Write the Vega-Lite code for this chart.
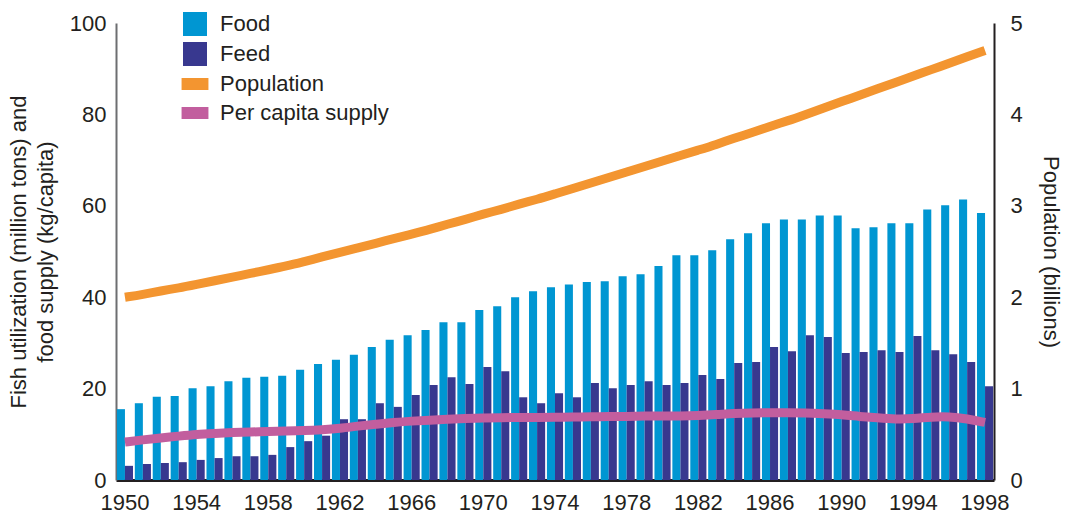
{
  "$schema": "https://vega.github.io/schema/vega-lite/v6.json",
  "width": 878,
  "height": 457,
  "autosize": {"type": "none"},
  "padding": {"left": 116, "top": 23, "right": 72, "bottom": 42},
  "background": "white",
  "config": {
    "view": {"stroke": null},
    "font": "Liberation Sans",
    "axis": {"grid": false, "ticks": false, "labelFont": "Liberation Sans", "titleFont": "Liberation Sans", "labelFontSize": 22, "titleFontSize": 22, "labelColor": "#231F20", "titleColor": "#231F20", "titleFontWeight": "normal"},
    "legend": {"labelFont": "Liberation Sans", "labelFontSize": 22, "labelColor": "#231F20", "padding": 0, "labelLimit": 400}
  },
  "data": {
    "values": [
      {"year": 1950, "Food": 15.5, "Feed": 3.1, "Population": 2.00, "PerCapita": 8.3},
      {"year": 1951, "Food": 16.8, "Feed": 3.5, "Population": 2.03, "PerCapita": 8.8},
      {"year": 1952, "Food": 18.2, "Feed": 3.7, "Population": 2.07, "PerCapita": 9.2},
      {"year": 1953, "Food": 18.4, "Feed": 3.9, "Population": 2.10, "PerCapita": 9.6},
      {"year": 1954, "Food": 20.1, "Feed": 4.4, "Population": 2.14, "PerCapita": 10.0},
      {"year": 1955, "Food": 20.5, "Feed": 4.8, "Population": 2.18, "PerCapita": 10.2},
      {"year": 1956, "Food": 21.6, "Feed": 5.2, "Population": 2.22, "PerCapita": 10.4},
      {"year": 1957, "Food": 22.4, "Feed": 5.2, "Population": 2.26, "PerCapita": 10.5},
      {"year": 1958, "Food": 22.6, "Feed": 5.5, "Population": 2.30, "PerCapita": 10.6},
      {"year": 1959, "Food": 22.8, "Feed": 7.2, "Population": 2.34, "PerCapita": 10.7},
      {"year": 1960, "Food": 24.1, "Feed": 8.5, "Population": 2.39, "PerCapita": 10.8},
      {"year": 1961, "Food": 25.4, "Feed": 9.7, "Population": 2.44, "PerCapita": 11.0},
      {"year": 1962, "Food": 26.3, "Feed": 13.3, "Population": 2.49, "PerCapita": 11.3},
      {"year": 1963, "Food": 27.4, "Feed": 13.3, "Population": 2.54, "PerCapita": 11.8},
      {"year": 1964, "Food": 29.1, "Feed": 16.8, "Population": 2.59, "PerCapita": 12.2},
      {"year": 1965, "Food": 30.7, "Feed": 16.0, "Population": 2.64, "PerCapita": 12.6},
      {"year": 1966, "Food": 31.7, "Feed": 18.6, "Population": 2.69, "PerCapita": 12.9},
      {"year": 1967, "Food": 32.8, "Feed": 20.8, "Population": 2.74, "PerCapita": 13.1},
      {"year": 1968, "Food": 34.5, "Feed": 22.5, "Population": 2.80, "PerCapita": 13.3},
      {"year": 1969, "Food": 34.5, "Feed": 21.0, "Population": 2.85, "PerCapita": 13.5},
      {"year": 1970, "Food": 37.2, "Feed": 24.7, "Population": 2.91, "PerCapita": 13.6},
      {"year": 1971, "Food": 38.0, "Feed": 23.8, "Population": 2.96, "PerCapita": 13.6},
      {"year": 1972, "Food": 40.0, "Feed": 18.1, "Population": 3.02, "PerCapita": 13.7},
      {"year": 1973, "Food": 41.3, "Feed": 16.8, "Population": 3.07, "PerCapita": 13.7},
      {"year": 1974, "Food": 42.2, "Feed": 19.0, "Population": 3.13, "PerCapita": 13.7},
      {"year": 1975, "Food": 42.8, "Feed": 18.1, "Population": 3.19, "PerCapita": 13.8},
      {"year": 1976, "Food": 43.3, "Feed": 21.2, "Population": 3.25, "PerCapita": 13.8},
      {"year": 1977, "Food": 43.5, "Feed": 20.1, "Population": 3.31, "PerCapita": 13.9},
      {"year": 1978, "Food": 44.6, "Feed": 20.8, "Population": 3.37, "PerCapita": 13.9},
      {"year": 1979, "Food": 45.0, "Feed": 21.6, "Population": 3.43, "PerCapita": 14.0},
      {"year": 1980, "Food": 46.8, "Feed": 20.8, "Population": 3.49, "PerCapita": 14.0},
      {"year": 1981, "Food": 49.2, "Feed": 21.2, "Population": 3.55, "PerCapita": 14.0},
      {"year": 1982, "Food": 49.2, "Feed": 23.0, "Population": 3.61, "PerCapita": 14.1},
      {"year": 1983, "Food": 50.3, "Feed": 22.1, "Population": 3.67, "PerCapita": 14.3},
      {"year": 1984, "Food": 52.7, "Feed": 25.6, "Population": 3.74, "PerCapita": 14.6},
      {"year": 1985, "Food": 54.0, "Feed": 25.8, "Population": 3.80, "PerCapita": 14.7},
      {"year": 1986, "Food": 56.2, "Feed": 29.1, "Population": 3.87, "PerCapita": 14.7},
      {"year": 1987, "Food": 57.0, "Feed": 28.2, "Population": 3.93, "PerCapita": 14.7},
      {"year": 1988, "Food": 57.0, "Feed": 31.7, "Population": 4.00, "PerCapita": 14.7},
      {"year": 1989, "Food": 57.9, "Feed": 31.3, "Population": 4.07, "PerCapita": 14.5},
      {"year": 1990, "Food": 57.9, "Feed": 27.8, "Population": 4.14, "PerCapita": 14.3},
      {"year": 1991, "Food": 55.1, "Feed": 28.0, "Population": 4.21, "PerCapita": 13.9},
      {"year": 1992, "Food": 55.3, "Feed": 28.4, "Population": 4.28, "PerCapita": 13.6},
      {"year": 1993, "Food": 56.2, "Feed": 28.0, "Population": 4.35, "PerCapita": 13.3},
      {"year": 1994, "Food": 56.2, "Feed": 31.5, "Population": 4.42, "PerCapita": 13.4},
      {"year": 1995, "Food": 59.2, "Feed": 28.4, "Population": 4.49, "PerCapita": 13.8},
      {"year": 1996, "Food": 60.1, "Feed": 27.5, "Population": 4.56, "PerCapita": 13.9},
      {"year": 1997, "Food": 61.4, "Feed": 25.8, "Population": 4.63, "PerCapita": 13.4},
      {"year": 1998, "Food": 58.4, "Feed": 20.5, "Population": 4.70, "PerCapita": 12.6}
    ]
  },
  "encoding": {
    "x": {
      "field": "year", "type": "ordinal",
      "scale": {"paddingInner": 0.1, "paddingOuter": 0.05},
      "axis": {
        "title": null, "labelAngle": 0, "labelPadding": 12,
        "values": [1950, 1954, 1958, 1962, 1966, 1970, 1974, 1978, 1982, 1986, 1990, 1994, 1998],
        "domainColor": "#231F20", "domainWidth": 3
      }
    }
  },
  "layer": [
    {
      "layer": [
        {
          "transform": [{"fold": ["Food", "Feed"], "as": ["key", "value"]}],
          "mark": {"type": "bar", "strokeWidth": 0},
          "encoding": {
            "xOffset": {"field": "key", "type": "nominal", "sort": ["Food", "Feed"], "scale": {"paddingInner": 0}},
            "y": {
              "field": "value", "type": "quantitative",
              "scale": {"domain": [0, 100], "nice": false},
              "axis": {"title": ["Fish utilization (million tons) and", "food supply (kg/capita)"], "titleLineHeight": 27, "titlePadding": 12, "values": [0, 20, 40, 60, 80, 100], "labelPadding": 10, "domainColor": "#6D6E71", "domainWidth": 2}
            },
            "color": {
              "field": "key", "type": "nominal",
              "scale": {"domain": ["Food", "Feed", "Population", "Per capita supply"], "range": ["#0096D2", "#38388F", "#F39530", "#C25E9E"]},
              "legend": {
                "title": null, "orient": "none", "legendX": 67, "legendY": -11,
                "symbolType": "square", "symbolSize": 576, "symbolStrokeWidth": 0, "labelOffset": 13, "rowPadding": 6,
                "encode": {
                  "symbols": {
                    "update": {
                      "shape": {"signal": "datum.value === 'Food' || datum.value === 'Feed' ? 'square' : 'M-1.12,-0.5H1.12V0.5H-1.12Z'"},
                      "fill": {"scale": "color", "field": "value"},
                      "strokeWidth": {"value": 0},
                      "opacity": {"value": 1}
                    }
                  }
                }
              }
            }
          }
        },
        {
          "mark": {"type": "line", "strokeWidth": 9, "strokeCap": "butt", "interpolate": "basis"},
          "encoding": {
            "y": {
              "field": "PerCapita", "type": "quantitative",
              "scale": {"domain": [0, 100], "nice": false},
              "axis": {"title": ["Fish utilization (million tons) and", "food supply (kg/capita)"], "titleLineHeight": 27, "titlePadding": 12, "values": [0, 20, 40, 60, 80, 100], "labelPadding": 10, "domainColor": "#6D6E71", "domainWidth": 2}
            },
            "color": {"datum": "Per capita supply"}
          }
        }
      ]
    },
    {
      "mark": {"type": "line", "strokeWidth": 9, "strokeCap": "butt", "interpolate": "basis"},
      "encoding": {
        "y": {
          "field": "Population", "type": "quantitative",
          "scale": {"domain": [0, 5], "nice": false},
          "axis": {"orient": "right", "title": "Population (billions)", "titlePadding": 16, "values": [0, 1, 2, 3, 4, 5], "labelPadding": 16, "domainColor": "#231F20", "domainWidth": 2}
        },
        "color": {"datum": "Population"}
      }
    }
  ],
  "resolve": {"scale": {"y": "independent"}}
}
